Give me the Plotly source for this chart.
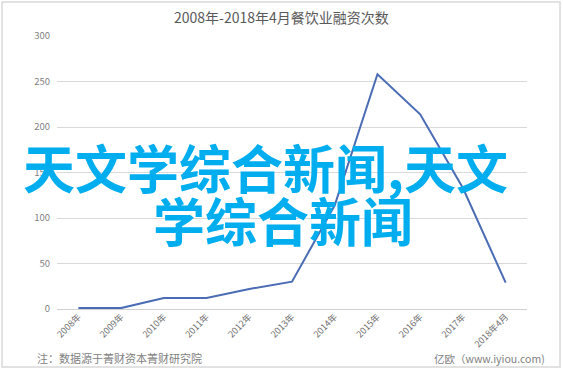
import plotly.graph_objects as go

categories = ["2008年", "2009年", "2010年", "2011年", "2012年", "2013年",
              "2014年", "2015年", "2016年", "2017年", "2018年4月"]
counts = [1, 1, 12, 12, 22, 30, 114, 258, 214, 133, 29]
y_ticks = [0, 50, 100, 150, 200, 250, 300]

title_text = "2008年-2018年4月餐饮业融资次数"
note_text = "注：数据源于菁财资本菁财研究院"
source_text = "亿欧（www.iyiou.com)"
overlay_line1 = "天文学综合新闻,天文"
overlay_line2 = "学综合新闻"

W, H = 563, 370
L, R, T, B = 57, 36, 36, 61
FONT = "Noto Sans CJK SC, Noto Sans, sans-serif"

fig = go.Figure()
fig.add_trace(go.Scatter(
    x=categories, y=counts, mode="lines",
    line=dict(color="#4a6cb5", width=2),
    hoverinfo="skip", showlegend=False,
))

fig.update_layout(
    width=W, height=H,
    margin=dict(l=L, r=R, t=T, b=B),
    paper_bgcolor="white", plot_bgcolor="white",
    font=dict(family=FONT, color="#595959"),
    xaxis=dict(
        type="category", range=[-0.5, 10.5],
        showgrid=False, showline=False, zeroline=False,
        tickangle=-45, tickfont=dict(size=9, color="#6f6f6f"),
        ticks="", ticklen=0,
    ),
    yaxis=dict(
        range=[0, 300], tickvals=y_ticks,
        showgrid=True, gridcolor="#d9d9d9", gridwidth=1,
        zeroline=True, zerolinecolor="#d0d0d0", zerolinewidth=1,
        showline=False, tickfont=dict(size=9.5, color="#7f7f7f"),
        ticks="", ticklabelstandoff=6,
    ),
)

annotations = [
    dict(text=title_text, x=281, y=H - 17, xanchor="center",
         font=dict(size=14, color="#595959", family=FONT)),
    dict(text=note_text, x=35, y=H - 358, xanchor="left",
         font=dict(size=11, color="#7f7f7f", family=FONT)),
    dict(text=source_text, x=547, y=H - 358, xanchor="right",
         font=dict(size=10.5, color="#7f7f7f", family=FONT)),
    dict(text="<b>" + overlay_line1 + "</b>", x=265, y=H - 166, xanchor="center",
         font=dict(size=52, color="#00aeef", family=FONT)),
    dict(text="<b>" + overlay_line2 + "</b>", x=283, y=H - 219, xanchor="center",
         font=dict(size=52, color="#00aeef", family=FONT)),
]
pw, ph = W - L - R, H - T - B
for a in annotations:
    a["x"] = (a["x"] - L) / pw
    a["y"] = (a["y"] - B) / ph
    a.update(xref="paper", yref="paper", yanchor="middle", showarrow=False)
fig.update_layout(annotations=annotations)

fig.add_shape(type="rect", xref="paper", yref="paper",
              x0=(2 - L) / pw, x1=(560 - L) / pw, y0=(H - 367 - B) / ph, y1=(H - 2 - B) / ph,
              line=dict(color="#d9d9d9", width=1.5), fillcolor="rgba(0,0,0,0)", layer="below")

fig.write_html("out.html")
